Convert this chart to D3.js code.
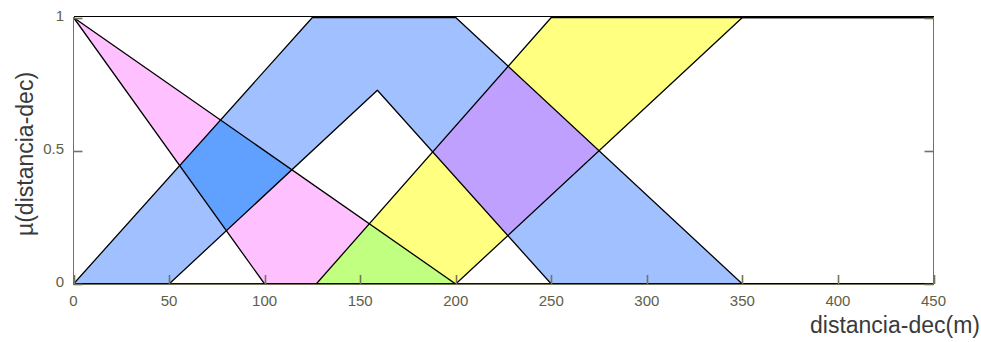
<!DOCTYPE html>
<html>
<head>
<meta charset="utf-8">
<script src="https://cdn.jsdelivr.net/npm/d3@7"></script>
<style>
  html, body { margin: 0; padding: 0; background: #fff; }
  svg { display: block; }
</style>
</head>
<body>
<svg id="chart" width="981" height="342"></svg>
<script>
// Interval type-2 membership functions for "distancia-dec"
// Each set: upper MF and lower MF as [x, mu] vertices.
const pinkUpper   = [[0, 1], [200, 0], [450, 0]];
const pinkLower   = [[0, 1], [100, 0], [450, 0]];
const blueUpper   = [[0, 0], [125, 1], [200, 1], [350, 0], [450, 0]];
const blueLower   = [[0, 0], [50, 0], [159, 0.727], [250, 0], [450, 0]];
const yellowUpper = [[0, 0], [127, 0], [250, 1], [450, 1]];
const yellowLower = [[0, 0], [200, 0], [350, 1], [450, 1]];

const xTicks = [0, 50, 100, 150, 200, 250, 300, 350, 400, 450];
const yTicks = [0, 0.5, 1];
const yTickLabels = ["0", "0.5", "1"];

const xTitle = "distancia-dec(m)";
const yTitle = "\u00b5(distancia-dec)";

const colors = {
  pink: "#ffc0ff",
  blue: "#a0c0ff",
  yellow: "#ffff80",
  pinkBlue: "#60a0ff",
  blueYellow: "#c0a0ff",
  pinkYellow: "#c0ff80",
  axis: "#74745a",
  tickText: "#5e5e48",
  title: "#3a3a3a"
};

const svg = d3.select("#chart");
const plotLeft = 73.5, plotRight = 933.5, plotTop = 17.5, plotBottom = 284;

const x = d3.scaleLinear().domain([0, 450]).range([plotLeft, plotRight]);
const y = d3.scaleLinear().domain([0, 1]).range([plotBottom, plotTop]);

const line = d3.line().x(d => x(d[0])).y(d => y(d[1]));
const band = (upper, lower) => line(upper.concat(lower.slice().reverse())) + "Z";

const defs = svg.append("defs");
defs.append("clipPath").attr("id", "plotClip")
  .append("rect").attr("x", plotLeft).attr("y", plotTop - 2)
  .attr("width", plotRight - plotLeft).attr("height", plotBottom - plotTop + 2);

const bands = {
  pink: band(pinkUpper, pinkLower),
  blue: band(blueUpper, blueLower),
  yellow: band(yellowUpper, yellowLower)
};
Object.entries(bands).forEach(([k, d]) => {
  defs.append("clipPath").attr("id", "clip-" + k).append("path").attr("d", d);
});

const plot = svg.append("g").attr("clip-path", "url(#plotClip)");

// footprints of uncertainty
plot.append("path").attr("d", bands.pink).attr("fill", colors.pink);
plot.append("path").attr("d", bands.blue).attr("fill", colors.blue);
plot.append("path").attr("d", bands.yellow).attr("fill", colors.yellow);

// overlapping regions
plot.append("path").attr("d", bands.blue).attr("fill", colors.pinkBlue).attr("clip-path", "url(#clip-pink)");
plot.append("path").attr("d", bands.yellow).attr("fill", colors.blueYellow).attr("clip-path", "url(#clip-blue)");
plot.append("path").attr("d", bands.yellow).attr("fill", colors.pinkYellow).attr("clip-path", "url(#clip-pink)");

// membership function outlines
[pinkUpper, pinkLower, blueUpper, blueLower, yellowUpper, yellowLower].forEach(mf => {
  plot.append("path").attr("d", line(mf))
    .attr("fill", "none").attr("stroke", "#000").attr("stroke-width", 1.3)
    .attr("stroke-linejoin", "round");
});

// axes box
const box = svg.append("g").attr("fill", "none").attr("shape-rendering", "crispEdges");
box.append("line").attr("x1", plotLeft).attr("x2", plotRight).attr("y1", 16.5).attr("y2", 16.5)
  .attr("stroke", "#000").attr("stroke-width", 1);
box.append("line").attr("x1", plotLeft).attr("x2", plotRight).attr("y1", plotBottom + 0.5).attr("y2", plotBottom + 0.5)
  .attr("stroke", colors.axis).attr("stroke-width", 1.5);
box.append("line").attr("x1", plotLeft).attr("x2", plotLeft).attr("y1", 16.5).attr("y2", plotBottom + 0.5)
  .attr("stroke", colors.axis).attr("stroke-width", 1.5);
box.append("line").attr("x1", plotRight).attr("x2", plotRight).attr("y1", 16.5).attr("y2", plotBottom + 0.5)
  .attr("stroke", colors.axis).attr("stroke-width", 1.5);

// ticks (drawn inward, on both vertical sides)
const tickLen = 9;
const ticks = svg.append("g").attr("stroke", colors.axis).attr("stroke-width", 1.6);
xTicks.forEach(v => {
  const px = Math.round(x(v)) + 0.5;
  ticks.append("line").attr("x1", px).attr("x2", px).attr("y1", plotBottom).attr("y2", plotBottom - tickLen);
});
yTicks.forEach(v => {
  const py = Math.round(y(v)) + 0.5;
  ticks.append("line").attr("x1", plotLeft).attr("x2", plotLeft + tickLen).attr("y1", py).attr("y2", py);
  ticks.append("line").attr("x1", plotRight).attr("x2", plotRight - tickLen).attr("y1", py).attr("y2", py);
});

// tick labels
const labels = svg.append("g").attr("font-family", "Liberation Sans, Arial, sans-serif")
  .attr("font-size", 15).attr("fill", colors.tickText);
xTicks.forEach(v => {
  labels.append("text").attr("x", x(v)).attr("y", 306).attr("text-anchor", "middle").text(v);
});
yTicks.forEach((v, i) => {
  labels.append("text").attr("x", 64).attr("y", y(v) - 2).attr("dy", "0.35em")
    .attr("text-anchor", "end").text(yTickLabels[i]);
});

// axis titles
svg.append("text").attr("x", 980).attr("y", 333).attr("text-anchor", "end")
  .attr("font-family", "Liberation Sans, Arial, sans-serif").attr("font-size", 23)
  .attr("fill", colors.title).text(xTitle);
svg.append("text").attr("transform", "translate(33,154) rotate(-90)").attr("text-anchor", "middle")
  .attr("font-family", "Liberation Sans, Arial, sans-serif").attr("font-size", 23)
  .attr("fill", colors.title).text(yTitle);
</script>
</body>
</html>
